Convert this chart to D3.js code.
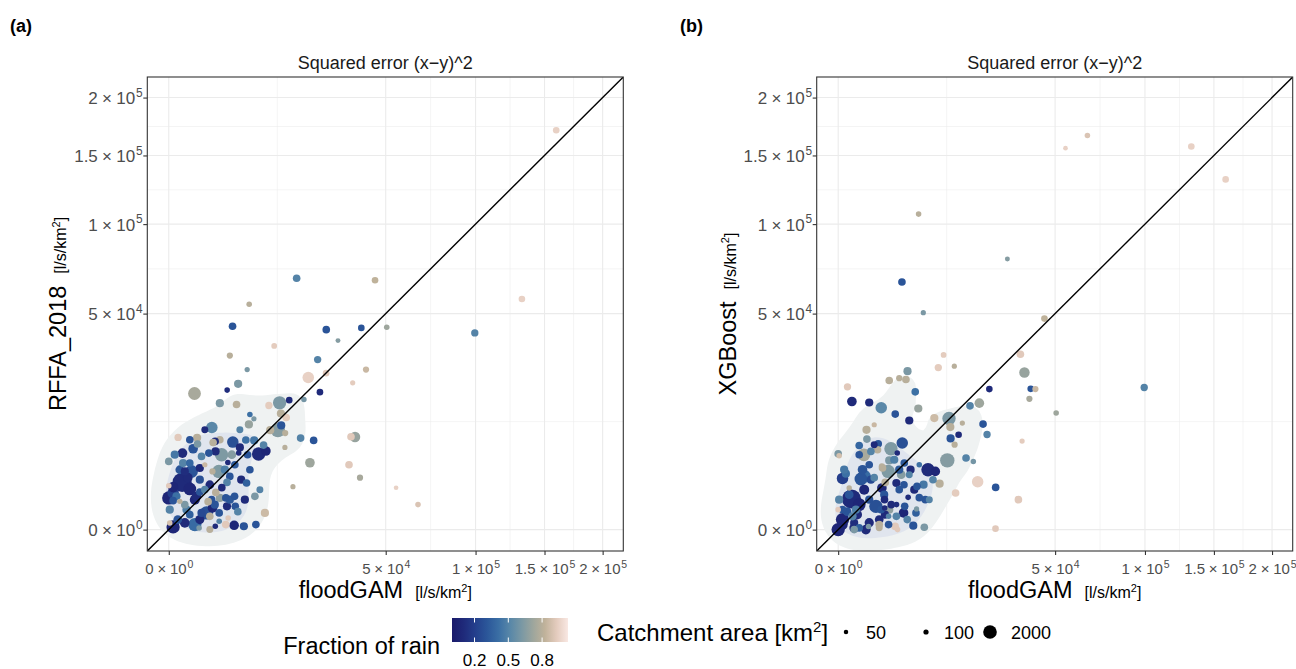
<!DOCTYPE html>
<html><head><meta charset="utf-8">
<script src="https://cdn.jsdelivr.net/npm/d3@7"></script>
<style>body{margin:0;background:#fff}</style>
</head><body>
<script>
// ---------------- data ----------------
// squared errors [l/s/km2]^2 ; one entry per catchment
const floodGAM = [159500,132500,99500,66000,54900,50480,45200,41330,39390,38850,36860,35940,35280,34510,30420,26350,26300,24280,23550,22300,21170,20670,19410,18470,17370,16380,15410,14650,14330,14400,13430,13360,13050,12650,11810,10930,10650,9820,9550,8570,10020,7700,7750,6990,6870,6820,6530,6310,6600,5990,5570,5370,5200,5110,4880,4640,4600,4700,4540,4360,4320,3960,3960,3745,3710,3620,3600,3600,3460,3450,2960,2770,2770,2770,2700,2700,2660,2350,2320,2280,2300,2090,2030,2030,1970,1950,1790,1705,1645,1515,1380,1138,1138,1024,1024,978,877,853,816,720,703,630,549,470,470,470,334,272,189,272,218,200,129,92,63,20,20,20,20,1,0,0,0,7880,8060,6430,
  38,129,385,720,1024,1380,1790,2250,2990,3960,5070,6150,86,272,1024,1790,3340,4225,6990,8820,1,470,1380,5370];
const rffa = [170900,57000,41450,670,1880,43890,66600,27450,43590,2890,9180,23080,9240,4510,38270,42850,26230,20250,30980,8520,4790,24780,18130,8980,67670,1975,17960,13470,7240,9990,11620,14450,17230,10610,36160,10600,16500,298,7660,6120,6620,13160,8520,14200,54420,11850,27450,8600,6000,12,2670,7240,6280,22770,16770,4510,1185,580,20,8210,44310,32450,3035,146,4840,20850,2390,580,1075,27,6000,17140,8650,1075,298,74,3630,1485,6550,8330,12,8140,3630,503,11180,960,189,6280,838,298,4510,5740,298,4070,1520,3,7845,9040,1185,27,19850,7010,3630,4750,1770,240,428,3630,2390,48,4750,6280,855,9100,1185,1947,1440,900,8,48,4980,2070,1075,1185,27,2330,
  6010,3845,2890,960,2670,1710,2160,668,1884,960,346,960,107,668,107,0,3845,6010,3845,1710,428,8650,10690,10690];
const xgb = [131400,157300,21630,166400,155900,14550,47700,21150,21230,18330,26430,8400,32970,960,78450,1910,1,21150,9700,11930,17140,2460,4980,16420,5490,12160,9640,1440,28620,7720,8900,11260,13230,5130,32710,2260,28130,13330,2670,3845,3630,50440,2160,4510,106650,15720,458,20340,2000,17,3845,12760,1115,26900,24130,4750,2160,580,298,8030,65690,24580,1710,0,6280,670,189,2330,14300,11,7010,5130,23810,428,27,189,3630,2390,240,960,503,4070,4280,1858,15900,428,27,7900,6840,580,11780,6550,2670,17310,4510,11,8785,10680,0,3035,6000,3845,2745,7590,670,3,428,48,1005,3,189,17580,1858,21840,3350,27,2810,428,107,5850,6170,428,0,6,960,298,
  3845,1310,240,1710,960,2890,107,1310,668,3845,107,1710,346,0,52,4,5230,3230,1094,960,960,6010,7720,3230];
const rainFrac = [.95,.95,.5,.9,.95,.72,.82,.85,.3,.75,.7,.93,.92,.92,.65,.3,.92,.1,.5,.3,.72,.95,.6,.5,.5,.8,.1,.93,.8,.8,.3,.8,.62,.65,.93,.8,.93,.86,.5,.1,.08,.62,.45,.42,.8,.7,.62,.42,.3,.3,.1,.1,.1,.62,.8,.32,.3,.3,.08,.28,.3,.8,.3,.92,.1,.12,.5,.1,.3,.92,.63,.62,.8,.68,.3,.5,.63,.8,.1,.1,.1,.8,.8,.08,.52,.3,.8,.3,.8,.28,.85,.5,.25,.1,.3,.62,.62,.8,.1,.4,.75,.3,.3,.38,.08,.35,.48,.12,.1,.1,.5,.1,.8,.92,.42,.08,.2,.3,.08,.88,.62,.92,.08,.62,.3,.35,
  .45,.3,.1,.08,.28,.5,.1,.3,.1,.32,.5,.1,.3,.62,.1,.8,.48,.65,.3,.5,.5,.3,.1,.5];
const areaKm2 = [250,250,350,130,60,130,250,200,250,200,1000,100,400,400,80,400,250,250,350,400,800,1300,120,400,400,100,250,400,100,200,500,500,1900,2300,150,500,350,500,400,1900,800,100,500,130,130,500,100,400,400,500,500,500,130,500,400,400,400,400,800,1300,400,200,400,130,130,130,400,500,400,400,1900,500,400,500,400,130,1900,400,500,400,130,400,200,800,1300,400,400,400,400,1900,100,400,500,500,400,130,400,500,800,1900,1700,800,1700,400,1700,400,500,500,4600,800,500,800,120,350,500,1000,1300,400,1900,130,400,130,1900,400,400,400,
  500,600,800,900,500,400,600,500,400,500,400,500,600,400,700,300,500,600,400,300,500,400,300,300];

const axisTicks = [0, 5e4, 1e5, 1.5e5, 2e5];
const tickMant = ["0", "5", "1", "1.5", "2"];
const tickExp  = ["0", "4", "5", "5", "5"];
const rainTicks = [0.2, 0.5, 0.8];
const rainTickLabels = ["0.2", "0.5", "0.8"];
const sizeKeys = [50, 100, 2000];

// ---------------- layout / style ----------------
const W = 1296, H = 669;
const FONT = "'Liberation Sans', Arial, Helvetica, sans-serif";
const PW = 476, TOP = 77, BOTTOM = 551;
const dom = [-490, 219500];
const palette = ["#1a1a6b","#1f2a7a","#243f8c","#2b5699","#3a6ea4","#5887a8","#7a98a4","#9ea69d","#c0b29a","#e3cbbd","#f9e8e3"];
const cMax = 1.03;
const color = d3.scaleLinear().domain(palette.map((_, i) => i / (palette.length - 1) * cMax)).range(palette).clamp(true);
const rScale = d3.scaleSqrt().domain([0, 4000]).range([1.4, 9.05]);

const svg = d3.select("body").append("svg").attr("width", W).attr("height", H)
  .style("font-family", FONT);
svg.append("rect").attr("width", W).attr("height", H).attr("fill", "#fff");

const panels = [
  {left: 147.3, ys: rffa, ylab: "RFFA_2018", tag: "(a)", tagX: 10, id: "a"},
  {left: 816.7, ys: xgb, ylab: "XGBoost", tag: "(b)", tagX: 680, id: "b"}
];

function sciLabel(sel, i, fs) {
  const k = fs / 15;
  sel.text(null);
  sel.append("tspan").text(tickMant[i]);
  sel.append("tspan").attr("dx", 3.8 * k).text("\u00d7");
  sel.append("tspan").attr("dx", 3.8 * k).text("10");
  sel.append("tspan").attr("dx", 0.8).attr("dy", -6.5 * k).attr("font-size", 10.5 * k).text(tickExp[i]);
}

const order = d3.range(floodGAM.length).sort((a, b) => areaKm2[b] - areaKm2[a]);

panels.forEach(p => {
  const L = p.left, R = p.left + PW;
  const x = d3.scaleSqrt().domain(dom).range([L, R]);
  const y = d3.scaleSqrt().domain(dom).range([BOTTOM, TOP]);
  const g = svg.append("g");

  // grid
  const minor = [];
  for (let i = 0; i < axisTicks.length - 1; i++) {
    const m = (Math.sqrt(axisTicks[i]) + Math.sqrt(axisTicks[i + 1])) / 2;
    minor.push(m * m);
  }
  g.selectAll(".gmx").data(minor).enter().append("line")
    .attr("x1", d => x(d)).attr("x2", d => x(d)).attr("y1", TOP).attr("y2", BOTTOM)
    .attr("stroke", "#ebebeb").attr("stroke-width", 0.55);
  g.selectAll(".gmy").data(minor).enter().append("line")
    .attr("y1", d => y(d)).attr("y2", d => y(d)).attr("x1", L).attr("x2", R)
    .attr("stroke", "#ebebeb").attr("stroke-width", 0.55);
  g.selectAll(".gx").data(axisTicks).enter().append("line")
    .attr("x1", d => x(d)).attr("x2", d => x(d)).attr("y1", TOP).attr("y2", BOTTOM)
    .attr("stroke", "#ebebeb").attr("stroke-width", 1.1);
  g.selectAll(".gy").data(axisTicks).enter().append("line")
    .attr("y1", d => y(d)).attr("y2", d => y(d)).attr("x1", L).attr("x2", R)
    .attr("stroke", "#ebebeb").attr("stroke-width", 1.1);

  // clip
  svg.append("clipPath").attr("id", "clip" + p.id).append("rect")
    .attr("x", L).attr("y", TOP).attr("width", PW).attr("height", BOTTOM - TOP);
  const inner = g.append("g").attr("clip-path", `url(#clip${p.id})`);

  // density shading
  const pts = order.map(i => [x(floodGAM[i]) - L, y(p.ys[i]) - TOP]);
  const dens0 = d3.contourDensity().x(d => d[0]).y(d => d[1])
    .size([PW, BOTTOM - TOP]).bandwidth(15).thresholds(60)(pts);
  const maxV = d3.max(dens0, c => c.value);
  const levels = d3.contourDensity().x(d => d[0]).y(d => d[1])
    .size([PW, BOTTOM - TOP]).bandwidth(15).thresholds([maxV * 0.2, maxV * 0.5])(pts);
  const fills = ["#eff2f2", "#e0e5ee"];
  inner.append("g").attr("transform", `translate(${L},${TOP})`)
    .selectAll("path").data(levels).enter().append("path")
    .attr("d", d3.geoPath()).attr("fill", (d, i) => fills[i]).attr("stroke", "none");

  // points
  inner.append("g").selectAll("circle").data(order).enter().append("circle")
    .attr("cx", i => x(floodGAM[i])).attr("cy", i => y(p.ys[i]))
    .attr("r", i => rScale(areaKm2[i])).attr("fill", i => color(rainFrac[i]));

  // 1:1 line
  inner.append("line")
    .attr("x1", x(dom[0])).attr("y1", y(dom[0])).attr("x2", x(dom[1])).attr("y2", y(dom[1]))
    .attr("stroke", "#000").attr("stroke-width", 1.4);

  // border
  g.append("rect").attr("x", L).attr("y", TOP).attr("width", PW).attr("height", BOTTOM - TOP)
    .attr("fill", "none").attr("stroke", "#333").attr("stroke-width", 1.1);

  // axes
  const XFS = 15, YFS = 17;
  g.append("g").attr("transform", `translate(0,${BOTTOM})`)
    .call(d3.axisBottom(x).tickValues(axisTicks).tickSize(4).tickFormat(() => ""))
    .call(a => a.select(".domain").remove())
    .call(a => a.selectAll("line").attr("stroke", "#333").attr("stroke-width", 1.1))
    .call(a => a.selectAll("text").attr("fill", "#4d4d4d").attr("font-size", XFS)
      .attr("font-family", FONT).attr("y", 23).attr("dy", 0)
      .each(function (d, i) { sciLabel(d3.select(this), i, XFS); }));
  g.append("g").attr("transform", `translate(${L},0)`)
    .call(d3.axisLeft(y).tickValues(axisTicks).tickSize(4).tickFormat(() => ""))
    .call(a => a.select(".domain").remove())
    .call(a => a.selectAll("line").attr("stroke", "#333").attr("stroke-width", 1.1))
    .call(a => a.selectAll("text").attr("fill", "#4d4d4d").attr("font-size", YFS)
      .attr("font-family", FONT).attr("x", -4.6).attr("dy", "0.35em")
      .each(function (d, i) { sciLabel(d3.select(this), i, YFS); }));

  // title
  g.append("text").attr("x", L + PW / 2).attr("y", 69).attr("text-anchor", "middle")
    .attr("font-size", 18).attr("fill", "#1a1a1a").text("Squared error (x\u2212y)^2");
  // tag
  g.append("text").attr("x", p.tagX).attr("y", 32).attr("font-size", 18)
    .attr("font-weight", "bold").attr("fill", "#000").text(p.tag);

  // x title
  const xt = g.append("text").attr("x", L + PW / 2).attr("y", 598).attr("text-anchor", "middle")
    .attr("fill", "#000");
  xt.append("tspan").attr("font-size", 23.5).text("floodGAM");
  xt.append("tspan").attr("font-size", 16).attr("dx", 12).text("[l/s/km");
  xt.append("tspan").attr("font-size", 11).attr("dy", -6.5).text("2");
  xt.append("tspan").attr("font-size", 16).attr("dy", 6.5).text("]");

  // y title
  const yt = g.append("text").attr("transform", `translate(${L - 81},${(TOP + BOTTOM) / 2}) rotate(-90)`)
    .attr("text-anchor", "middle").attr("fill", "#000");
  yt.append("tspan").attr("font-size", 23.5).text(p.ylab);
  yt.append("tspan").attr("font-size", 16).attr("dx", 12).text("[l/s/km");
  yt.append("tspan").attr("font-size", 11).attr("dy", -6.5).text("2");
  yt.append("tspan").attr("font-size", 16).attr("dy", 6.5).text("]");
});

// ---------------- legends ----------------
const leg = svg.append("g");
leg.append("text").attr("x", 440).attr("y", 654).attr("text-anchor", "end")
  .attr("font-size", 23.5).attr("fill", "#000").text("Fraction of rain");
const cbX0 = 452, cbX1 = 568, cbY = 618, cbH = 24;
const cbScale = d3.scaleLinear().domain([0, cMax]).range([cbX0, cbX1]);
const grad = svg.append("defs").append("linearGradient").attr("id", "cbgrad");
palette.forEach((c, i) => grad.append("stop").attr("offset", i / (palette.length - 1)).attr("stop-color", c));
leg.append("rect").attr("x", cbX0).attr("y", cbY).attr("width", cbX1 - cbX0).attr("height", cbH)
  .attr("fill", "url(#cbgrad)");
rainTicks.forEach((t, i) => {
  const xx = cbScale(t);
  leg.append("line").attr("x1", xx).attr("x2", xx).attr("y1", cbY).attr("y2", cbY + 4.5)
    .attr("stroke", "#fff").attr("stroke-width", 1);
  leg.append("line").attr("x1", xx).attr("x2", xx).attr("y1", cbY + cbH - 4.5).attr("y2", cbY + cbH)
    .attr("stroke", "#fff").attr("stroke-width", 1);
  leg.append("text").attr("x", xx).attr("y", 666).attr("text-anchor", "middle")
    .attr("font-size", 17).attr("fill", "#000").text(rainTickLabels[i]);
});

const st = leg.append("text").attr("x", 597).attr("y", 641).attr("fill", "#000");
st.append("tspan").attr("font-size", 24).text("Catchment area [km");
st.append("tspan").attr("font-size", 15).attr("dy", -9).text("2");
st.append("tspan").attr("font-size", 24).attr("dy", 9).text("]");
const keyX = [846, 926, 990], keyLabX = [866, 944, 1011];
sizeKeys.forEach((k, i) => {
  leg.append("circle").attr("cx", keyX[i]).attr("cy", 632).attr("r", rScale(k)).attr("fill", "#000");
  leg.append("text").attr("x", keyLabX[i]).attr("y", 639).attr("font-size", 18).attr("fill", "#000").text(k);
});
</script>
</body></html>
